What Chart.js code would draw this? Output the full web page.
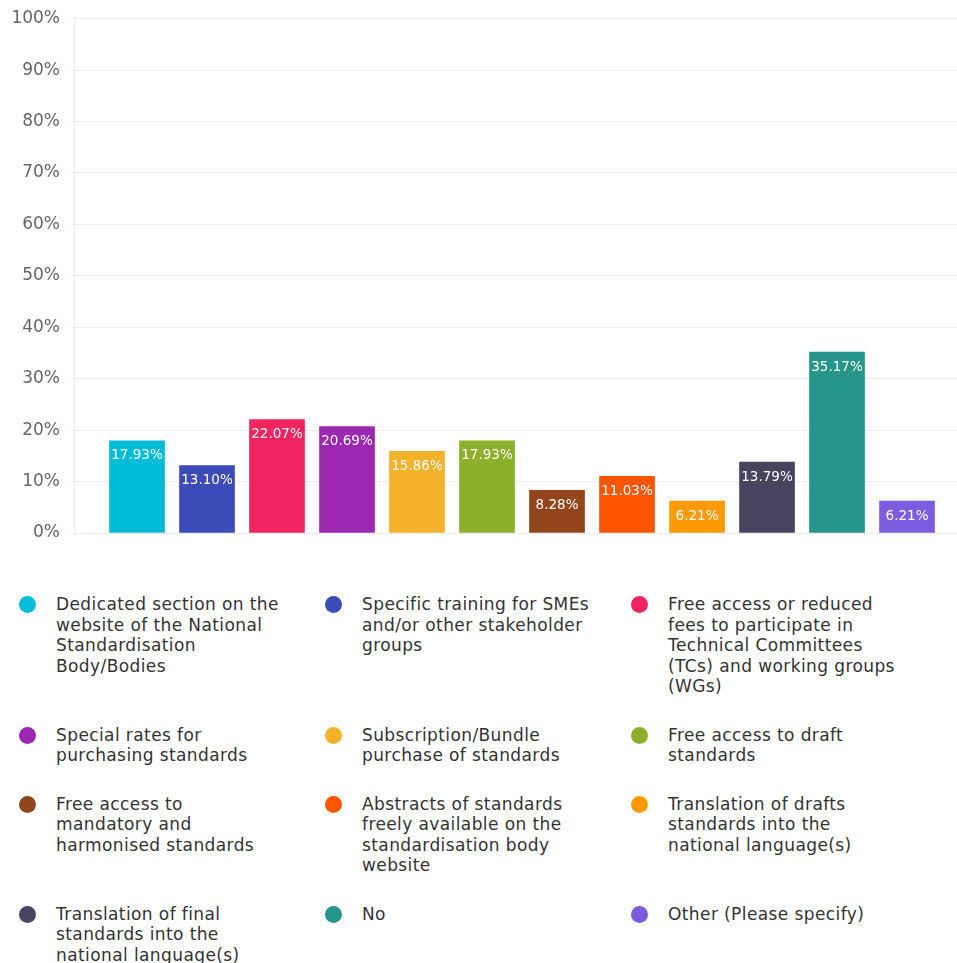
<!DOCTYPE html>
<html>
<head>
<meta charset="utf-8">
<script src="https://cdn.jsdelivr.net/npm/chart.js@4.4.0/dist/chart.umd.min.js"></script>
<style>
  html, body { margin: 0; padding: 0; background: #fff; }
  body { width: 957px; height: 963px; position: relative; overflow: hidden; font-family: "DejaVu Sans", sans-serif; }
  #wrap { position: absolute; left: 0; top: 0; width: 957px; height: 561px; }
  #legend { position: absolute; left: 0; top: 594px; width: 957px; }
  .row { display: flex; margin-bottom: 28px; }
  .item { position: relative; width: 306px; padding-left: 56px; box-sizing: border-box; font-size: 17px; line-height: 20.5px; color: #333; letter-spacing: 0.4px; }
  .item .dot { position: absolute; left: 19px; top: 2px; width: 17px; height: 17px; border-radius: 50%; }
  .item .txt { width: 245px; }
</style>
</head>
<body>
<div id="wrap"><canvas id="c"></canvas></div>
<div id="legend"></div>
<script>
const categories = [
  "Dedicated section on the website of the National Standardisation Body/Bodies",
  "Specific training for SMEs and/or other stakeholder groups",
  "Free access or reduced fees to participate in Technical Committees (TCs) and working groups (WGs)",
  "Special rates for purchasing standards",
  "Subscription/Bundle purchase of standards",
  "Free access to draft standards",
  "Free access to mandatory and harmonised standards",
  "Abstracts of standards freely available on the standardisation body website",
  "Translation of drafts standards into the national language(s)",
  "Translation of final standards into the national language(s)",
  "No",
  "Other (Please specify)"
];
const legendLines = [
  ["Dedicated section on the", "website of the National", "Standardisation", "Body/Bodies"],
  ["Specific training for SMEs", "and/or other stakeholder", "groups"],
  ["Free access or reduced", "fees to participate in", "Technical Committees", "(TCs) and working groups", "(WGs)"],
  ["Special rates for", "purchasing standards"],
  ["Subscription/Bundle", "purchase of standards"],
  ["Free access to draft", "standards"],
  ["Free access to", "mandatory and", "harmonised standards"],
  ["Abstracts of standards", "freely available on the", "standardisation body", "website"],
  ["Translation of drafts", "standards into the", "national language(s)"],
  ["Translation of final", "standards into the", "national language(s)"],
  ["No"],
  ["Other (Please specify)"]
];
const values = [17.93, 13.10, 22.07, 20.69, 15.86, 17.93, 8.28, 11.03, 6.21, 13.79, 35.17, 6.21];
const colors = ["#00BCD6", "#3B4CB8", "#F0245F", "#9C27B0", "#F3B229", "#8CB02C", "#93461B", "#FE5500", "#FF9A05", "#48445F", "#26968A", "#7C5CE0"];
const yTicks = [0, 10, 20, 30, 40, 50, 60, 70, 80, 90, 100];

// legend
const legend = document.getElementById('legend');
for (let r = 0; r < categories.length; r += 3) {
  const row = document.createElement('div');
  row.className = 'row';
  for (let i = r; i < r + 3 && i < categories.length; i++) {
    const it = document.createElement('div');
    it.className = 'item';
    const d = document.createElement('span');
    d.className = 'dot';
    d.style.background = colors[i];
    it.appendChild(d);
    const t = document.createElement('div');
    t.className = 'txt';
    t.innerHTML = legendLines[i].join('<br>');
    it.appendChild(t);
    row.appendChild(it);
  }
  legend.appendChild(row);
}

const labelPlugin = {
  id: 'barLabels',
  afterDatasetsDraw(chart) {
    const ctx = chart.ctx;
    const meta = chart.getDatasetMeta(0);
    ctx.save();
    ctx.font = '13.5px "DejaVu Sans", sans-serif';
    ctx.fillStyle = '#ffffff';
    ctx.textAlign = 'center';
    ctx.textBaseline = 'middle';
    meta.data.forEach((bar, i) => {
      ctx.fillText(values[i].toFixed(2) + '%', bar.x, bar.y + 15);
    });
    ctx.restore();
  }
};

new Chart(document.getElementById('c'), {
  type: 'bar',
  data: {
    datasets: [{
      data: values.map((v, i) => ({ x: i, y: v })),
      backgroundColor: colors,
      borderWidth: 0,
      barThickness: 55
    }]
  },
  options: {
    responsive: true,
    maintainAspectRatio: false,
    animation: false,
    layout: { padding: { top: 0, right: 0, bottom: 28, left: 0 } },
    plugins: { legend: { display: false }, tooltip: { enabled: false } },
    scales: {
      x: {
        type: 'linear',
        display: false,
        offset: false,
        min: -0.9,
        max: 11.714
      },
      y: {
        min: 0,
        max: 100,
        afterFit(scale) { scale.width = 74; },
        afterBuildTicks(scale) { scale.ticks = yTicks.map(v => ({ value: v })); },
        ticks: {
          padding: 11,
          color: '#666',
          font: { family: 'DejaVu Sans', size: 17, lineHeight: 0.9 },
          callback: v => v + '%'
        },
        grid: { color: '#ececec', tickLength: 3, lineWidth: 1 },
        border: { color: '#e8e8e8' }
      }
    }
  },
  plugins: [labelPlugin]
});
</script>
</body>
</html>
